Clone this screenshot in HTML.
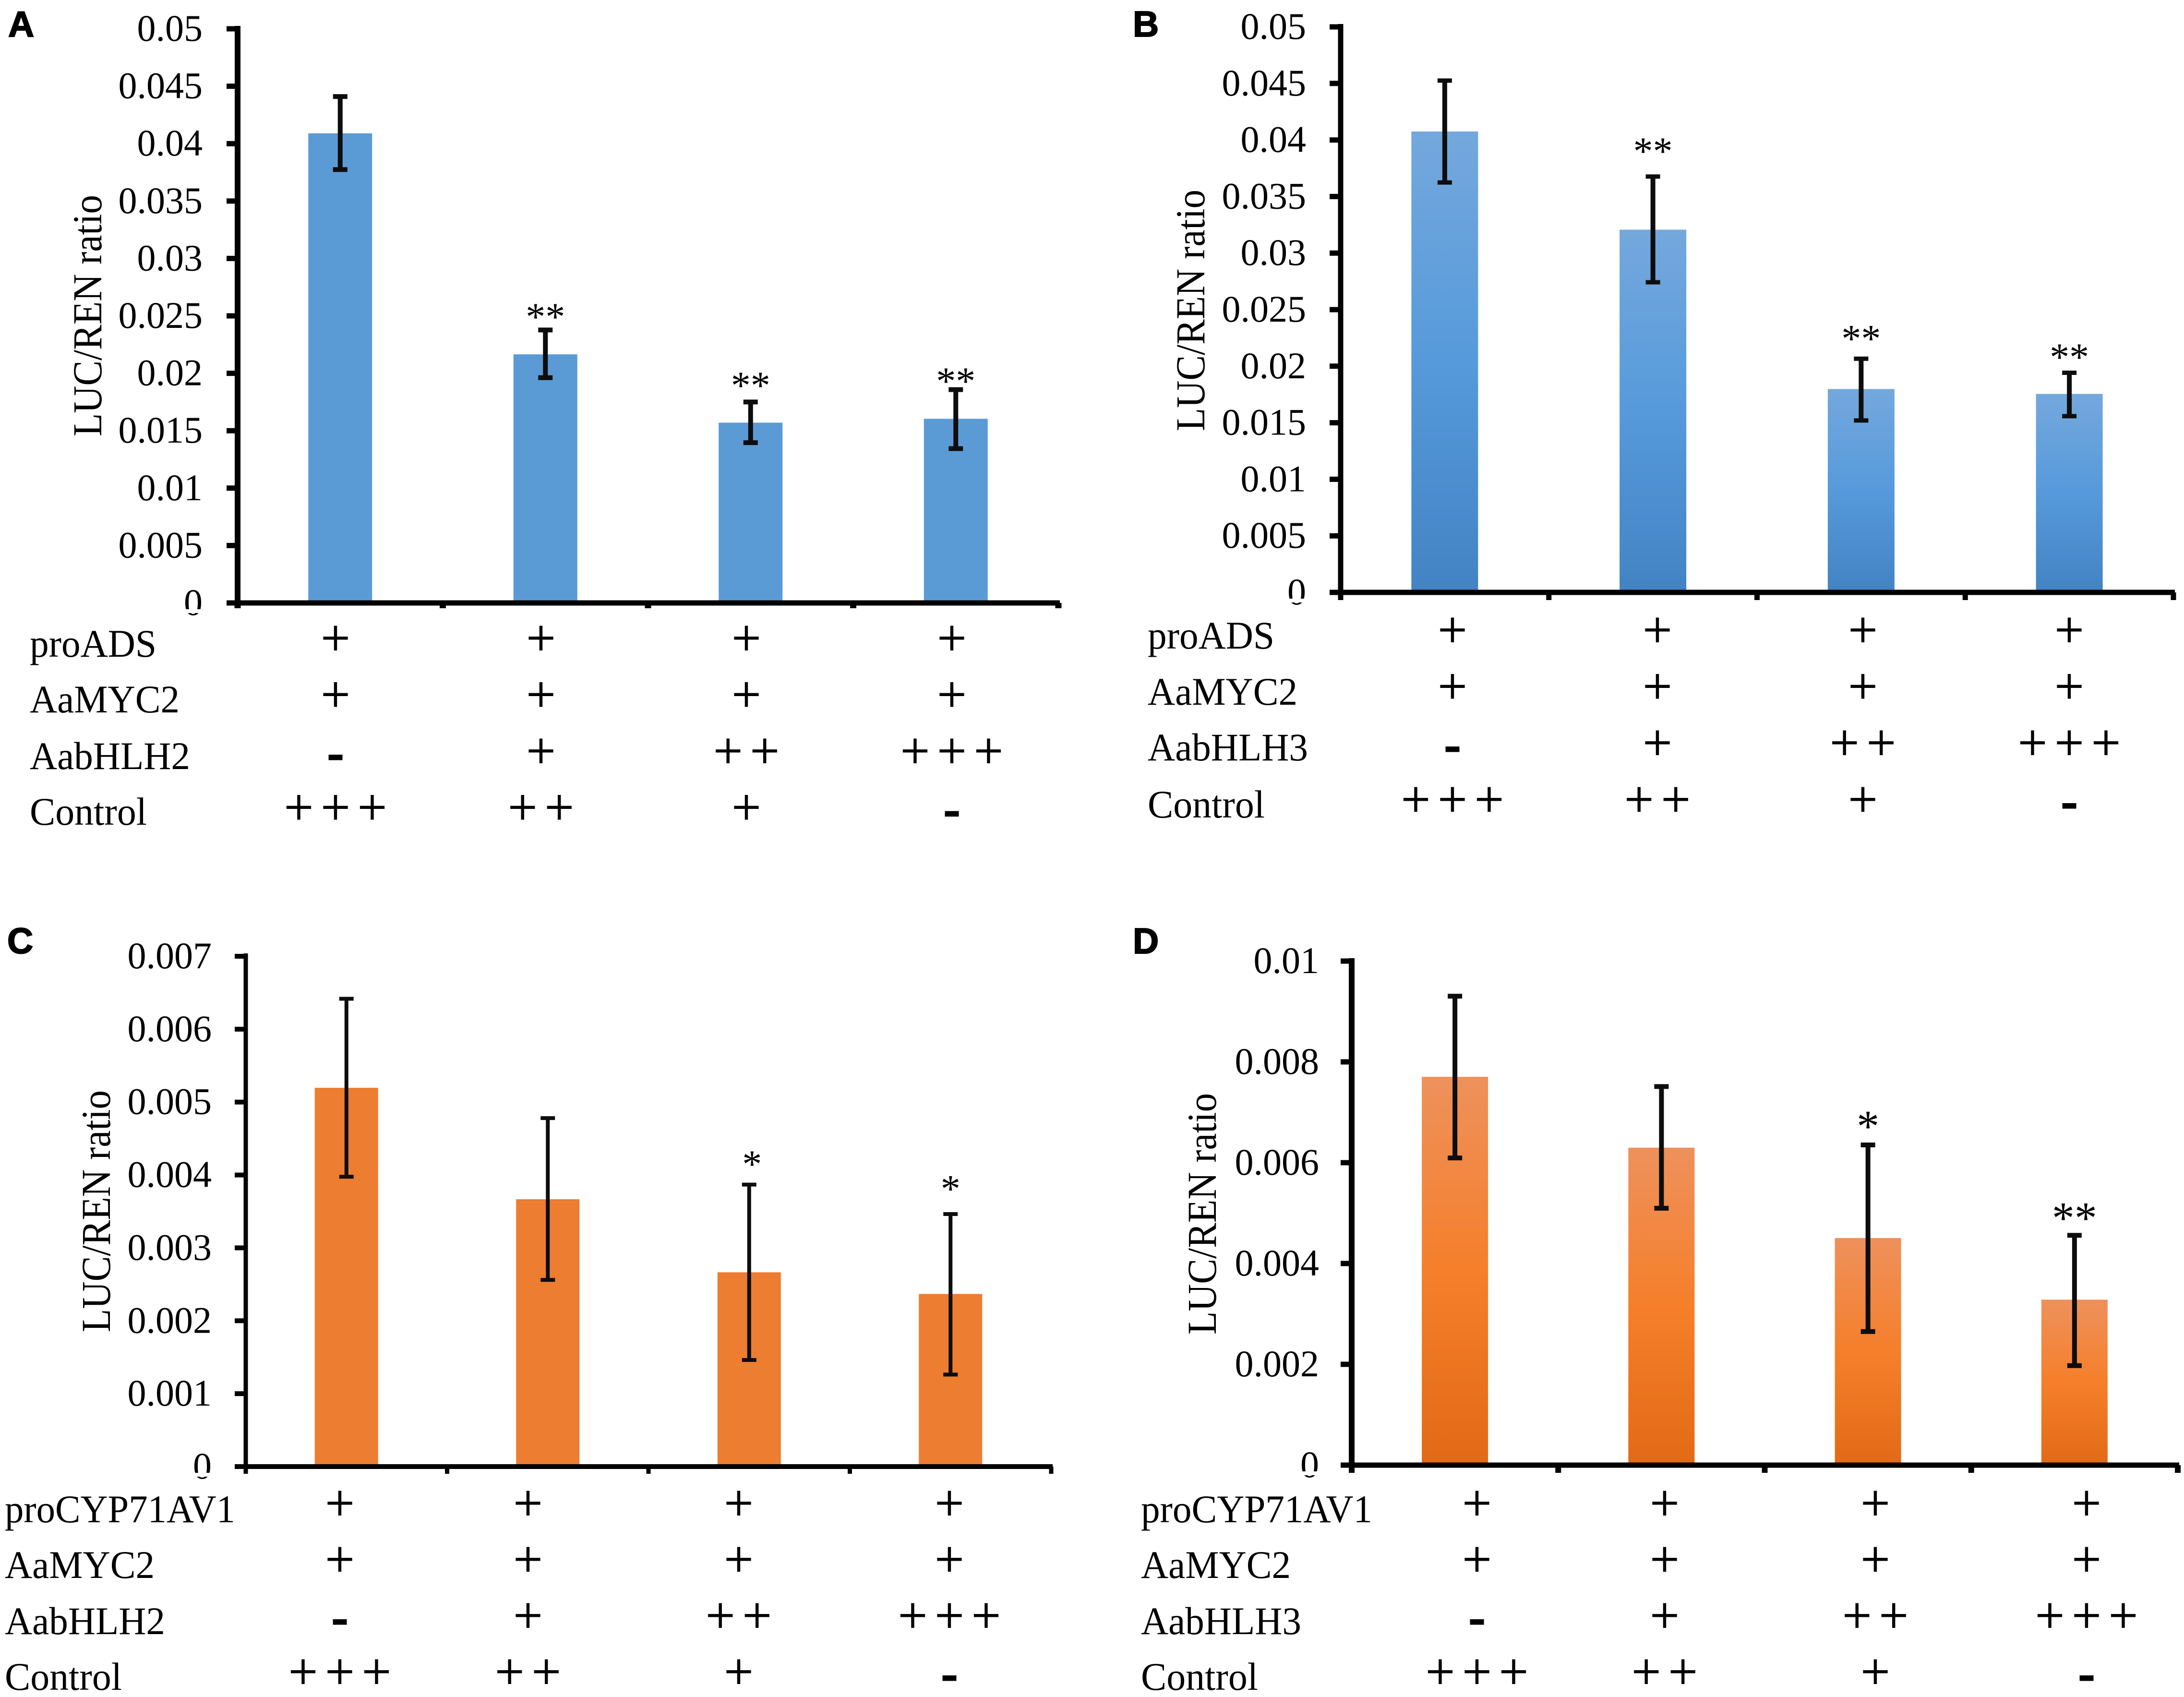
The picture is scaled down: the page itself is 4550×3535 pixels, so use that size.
<!DOCTYPE html>
<html lang="en">
<head>
<meta charset="utf-8">
<title>LUC/REN ratio bar charts</title>
<style>
html,body{margin:0;padding:0;background:#fff;}
svg{display:block;width:4550px;height:3535px;}
text{font-family:"Liberation Serif",serif;fill:#000;}
.letter{font-family:"Liberation Sans",sans-serif;font-weight:bold;font-size:75px;stroke:#000;stroke-width:2px;}
.row{font-size:82px;}
.ytitle{font-size:86px;}
</style>
</head>
<body>
<svg id="chart" xmlns="http://www.w3.org/2000/svg" width="4550" height="3535" viewBox="0 0 4550 3535">
<defs>
<linearGradient id="gradBlue" x1="0" y1="0" x2="0" y2="1"><stop offset="0" stop-color="#74A8DD"/><stop offset="0.5" stop-color="#569ADB"/><stop offset="1" stop-color="#4283C3"/></linearGradient>
<linearGradient id="gradOrange" x1="0" y1="0" x2="0" y2="1"><stop offset="0" stop-color="#EE915C"/><stop offset="0.5" stop-color="#F57F2A"/><stop offset="1" stop-color="#E26A16"/></linearGradient>
</defs>
<rect width="4550" height="3535" fill="#fff"/>

<g>
<text class="letter" x="17" y="76">A</text>
<text class="ytitle" transform="translate(211,909) rotate(-90)" textLength="503" lengthAdjust="spacingAndGlyphs">LUC/REN ratio</text>
<text class="row" x="62" y="1368" textLength="264" lengthAdjust="spacingAndGlyphs">proADS</text>
<text class="row" x="62" y="1484" textLength="312" lengthAdjust="spacingAndGlyphs">AaMYC2</text>
<text class="row" x="62" y="1602" textLength="334" lengthAdjust="spacingAndGlyphs">AabHLH2</text>
<text class="row" x="62" y="1718" textLength="244" lengthAdjust="spacingAndGlyphs">Control</text>
</g>
<g>
<text class="letter" x="2360" y="76">B</text>
<text class="ytitle" transform="translate(2509,898) rotate(-90)" textLength="503" lengthAdjust="spacingAndGlyphs">LUC/REN ratio</text>
<text class="row" x="2391" y="1351" textLength="264" lengthAdjust="spacingAndGlyphs">proADS</text>
<text class="row" x="2391" y="1468" textLength="312" lengthAdjust="spacingAndGlyphs">AaMYC2</text>
<text class="row" x="2391" y="1584" textLength="334" lengthAdjust="spacingAndGlyphs">AabHLH3</text>
<text class="row" x="2391" y="1703" textLength="244" lengthAdjust="spacingAndGlyphs">Control</text>
</g>
<g>
<text class="letter" x="15" y="1986">C</text>
<text class="ytitle" transform="translate(229,2775) rotate(-90)" textLength="504" lengthAdjust="spacingAndGlyphs">LUC/REN ratio</text>
<text class="row" x="10" y="3171" textLength="480" lengthAdjust="spacingAndGlyphs">proCYP71AV1</text>
<text class="row" x="10" y="3287" textLength="312" lengthAdjust="spacingAndGlyphs">AaMYC2</text>
<text class="row" x="10" y="3404" textLength="334" lengthAdjust="spacingAndGlyphs">AabHLH2</text>
<text class="row" x="10" y="3520" textLength="244" lengthAdjust="spacingAndGlyphs">Control</text>
</g>
<g>
<text class="letter" x="2360" y="1986">D</text>
<text class="ytitle" transform="translate(2533,2780) rotate(-90)" textLength="503" lengthAdjust="spacingAndGlyphs">LUC/REN ratio</text>
<text class="row" x="2377" y="3171" textLength="482" lengthAdjust="spacingAndGlyphs">proCYP71AV1</text>
<text class="row" x="2377" y="3287" textLength="312" lengthAdjust="spacingAndGlyphs">AaMYC2</text>
<text class="row" x="2377" y="3404" textLength="334" lengthAdjust="spacingAndGlyphs">AabHLH3</text>
<text class="row" x="2377" y="3520" textLength="244" lengthAdjust="spacingAndGlyphs">Control</text>
</g>
</svg>

<script>
// Data
const tickLabelsAB = ["0","0.005","0.01","0.015","0.02","0.025","0.03","0.035","0.04","0.045","0.05"];
const tickLabelsC = ["0","0.001","0.002","0.003","0.004","0.005","0.006","0.007"];
const tickLabelsD = ["0","0.002","0.004","0.006","0.008","0.01"];

const valuesA = [0.0409,0.02165,0.0157,0.01604];
const errHighA = [0.0441,0.02377,0.0175,0.01858];
const errLowA = [0.03774,0.01962,0.01396,0.01344];
const starsA = ["","**","**","**"];

const valuesB = [0.04075,0.03207,0.01798,0.01755];
const errHighB = [0.04525,0.03677,0.02066,0.01942];
const errLowB = [0.03624,0.02742,0.0152,0.01558];
const starsB = ["","**","**","**"];

const valuesC = [0.005196,0.003667,0.002665,0.002368];
const errHighC = [0.006417,0.00478,0.003868,0.003464];
const errLowC = [0.003976,0.002561,0.001462,0.001262];
const starsC = ["","","*","*"];

const valuesD = [0.007704,0.006298,0.004506,0.003283];
const errHighD = [0.009303,0.007511,0.006352,0.00456];
const errLowD = [0.006094,0.005097,0.00265,0.001974];
const starsD = ["","","*","**"];

const treatmentMarks = [["+","+","+","+"],["+","+","+","+"],["-","+","++","+++"],["+++","++","+","-"]];

// Layout (kept separate from the data)
const panels = [
 {id:"a",ticks:tickLabelsAB,values:valuesA,hi:errHighA,lo:errLowA,stars:starsA,left:495,right:2205,top:60,base:1256,labelRight:422,fill:"#5B9BD5",axisV:12,axisH:11,tickW:13,tickLen:11,err:10,cap:10,barW:133,starSize:82,starLift:[0,35,42,25],starDx:[0,0,0,0],
  markX:[699,1127,1555,1983],markY:1332,markStep:117.5},
 {id:"b",ticks:tickLabelsAB,values:valuesB,hi:errHighB,lo:errLowB,stars:starsB,left:2793,right:4528,top:56,base:1234,labelRight:2721,fill:"url(#gradBlue)",axisV:11,axisH:11,tickW:11,tickLen:16,err:10,cap:9,barW:139,starSize:82,starLift:[0,60,49,40],starDx:[0,0,0,0],
  markX:[3026,3453,3881,4311],markY:1315,markStep:117.6},
 {id:"c",ticks:tickLabelsC,values:valuesC,hi:errHighC,lo:errLowC,stars:starsC,left:512,right:2190,top:1992,base:3055,labelRight:441,fill:"#ED7D31",axisV:9,axisH:10,tickW:9,tickLen:15,err:8,cap:8,barW:132,starSize:82,starLift:[0,0,50,60],starDx:[0,0,6,0],
  markX:[708,1100,1539,1978],markY:3134,markStep:117},
 {id:"d",ticks:tickLabelsD,values:valuesD,hi:errHighD,lo:errLowD,stars:starsD,left:2816,right:4537,top:2002,base:3052,labelRight:2748,fill:"url(#gradOrange)",axisV:12,axisH:11,tickW:12,tickLen:16,err:10,cap:10,barW:138,starSize:94,starLift:[0,0,47,44],starDx:[0,0,0,0],
  markX:[3077,3468,3907,4347],markY:3134,markStep:117}
];

const NS = "http://www.w3.org/2000/svg";
const root = document.getElementById("chart");
function make(tag, parent, attrs, txt){
  const el = document.createElementNS(NS, tag);
  for (const k in attrs) el.setAttribute(k, attrs[k]);
  if (txt !== undefined) el.textContent = txt;
  parent.appendChild(el);
  return el;
}

panels.forEach(function(p){
  const maxV = parseFloat(p.ticks[p.ticks.length-1]);
  const yScale = function(v){ return p.base - (v/maxV)*(p.base-p.top); };
  const xScale = function(i){ return p.left + (i+0.5)*(p.right-p.left)/p.values.length; };

  const g = make("g", root, {});
  
  

  // bars
  p.values.forEach(function(v,i){
    const bar = make("rect", g, {x:xScale(i)-p.barW/2, y:yScale(v), width:p.barW, height:p.base-yScale(v), fill:p.fill});
    
    
  });

  // axes
  const yAxis = make("line", g, {x1:p.left,x2:p.left,y1:p.top-6,y2:p.base+p.tickLen,stroke:"#000","stroke-width":p.axisV});
  
  
  const xAxis = make("line", g, {x1:p.left-23,x2:p.right+3,y1:p.base,y2:p.base,stroke:"#000","stroke-width":p.axisH});
  
  

  // y ticks and labels
  p.ticks.forEach(function(label){
    const v = parseFloat(label);
    const y = yScale(v);
    const tick = make("line", g, {x1:p.left-23,x2:p.left,y1:y,y2:y,stroke:"#000","stroke-width":p.axisH});
    
    
    const t = make("text", g, {x:p.labelRight,y:y+25,"text-anchor":"end","font-size":78}, label);
    
    
    if (v === 0) {
      const cut = make("rect", g, {x:p.labelRight-45,y:y+13,width:50,height:8,fill:"#fff"});
      
      
    }
  });

  // x ticks
  for (let i=0;i<=p.values.length;i++){
    const x = p.left + i*(p.right-p.left)/p.values.length;
    const tick = make("line", g, {x1:x,x2:x,y1:p.base,y2:p.base+p.tickLen,stroke:"#000","stroke-width":p.tickW});
    
    
  }

  // error bars
  p.values.forEach(function(v,i){
    const x = xScale(i), hi = yScale(p.hi[i]), lo = yScale(p.lo[i]);
    const stem = make("line", g, {x1:x,x2:x,y1:hi,y2:lo,stroke:"#0d0d0d","stroke-width":p.err});
    
    
    const capT = make("line", g, {x1:x-15,x2:x+15,y1:hi,y2:hi,stroke:"#0d0d0d","stroke-width":p.cap});
    
    
    const capB = make("line", g, {x1:x-15,x2:x+15,y1:lo,y2:lo,stroke:"#0d0d0d","stroke-width":p.cap});
    
    
    if (p.stars[i]) {
      const star = make("text", g, {x:x+p.starDx[i],y:hi-p.starLift[i]+p.starSize*0.42,"text-anchor":"middle","font-size":p.starSize}, p.stars[i]);
      
      
    }
  });

  // treatment marks
  treatmentMarks.forEach(function(row,r){
    const cy = p.markY + r*p.markStep;
    row.forEach(function(mark,c){
      const n = mark.length;
      for (let k=0;k<n;k++){
        const cx = p.markX[c] + (k-(n-1)/2)*76.5;
        const isPlus = mark[k] === "+";
        const m = make("text", g, {x:cx, y:isPlus?cy+33:cy+34, "text-anchor":"middle","font-size":isPlus?108:100,"font-weight":isPlus?"normal":"bold",stroke:"#000","stroke-width":isPlus?1:3}, mark[k]);
        
        
      }
    });
  });
});
</script>
</body>
</html>
